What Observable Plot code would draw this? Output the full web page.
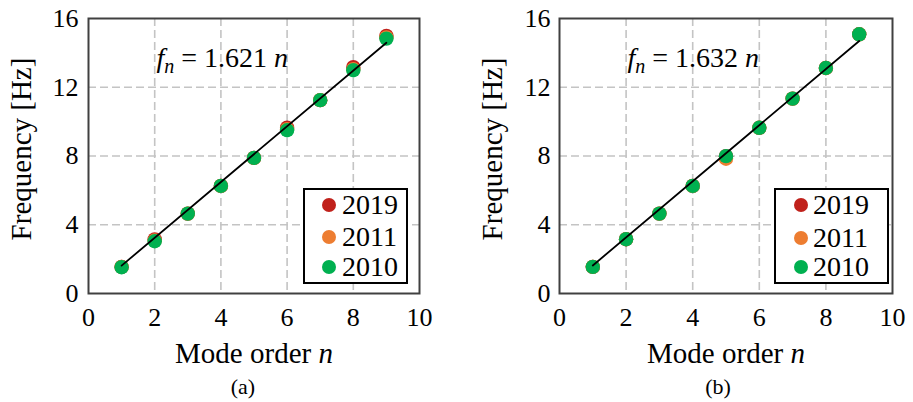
<!DOCTYPE html>
<html>
<head>
<meta charset="utf-8">
<script src="https://cdn.jsdelivr.net/npm/d3@7"></script>
<script src="https://cdn.jsdelivr.net/npm/@observablehq/plot@0.6"></script>
<style>
  html, body { margin: 0; padding: 0; background: #fff; }
  #wrap { display: flex; width: 913px; height: 402px; font-family: "Liberation Serif", "Times New Roman", Times, "DejaVu Serif", serif; }
  .panel { position: relative; height: 402px; }
  .legend { position: absolute; box-sizing: border-box; border: 2px solid #000; background: #fff; }
  .legend .row { position: absolute; height: 30px; line-height: 30px; font-size: 28px; color: #000; white-space: nowrap; }
  .legend .sw { position: absolute; width: 14px; height: 14px; border-radius: 50%; }
  .caption { position: absolute; width: 100px; text-align: center; font-size: 22px; line-height: 30px; color: #000; }
</style>
</head>
<body>
<div id="wrap"></div>
<script>
// ---- data ----
const nModes = [1, 2, 3, 4, 5, 6, 7, 8, 9];
const years = ["2019", "2011", "2010"];
const colors = ["#c0211b", "#ed7d31", "#00b050"];
const xTicks = [0, 2, 4, 6, 8, 10];
const yTicks = [0, 4, 8, 12, 16];
const xGrid = [2, 4, 6, 8];
const yGrid = [4, 8, 12];
const xLabel = "Mode order n";
const yLabel = "Frequency [Hz]";

// panel (a)
const a2019 = [1.55, 3.15, 4.65, 6.26, 7.89, 9.65, 11.25, 13.17, 14.99];
const a2011 = [1.55, 3.08, 4.65, 6.26, 7.89, 9.56, 11.25, 13.05, 14.90];
const a2010 = [1.53, 3.04, 4.65, 6.26, 7.89, 9.50, 11.25, 12.99, 14.83];
const slopeA = 1.621;
// panel (b)
const b2019 = [1.55, 3.16, 4.65, 6.26, 7.99, 9.64, 11.34, 13.12, 15.08];
const b2011 = [1.55, 3.16, 4.65, 6.26, 7.84, 9.64, 11.34, 13.12, 15.08];
const b2010 = [1.55, 3.16, 4.65, 6.26, 7.99, 9.64, 11.34, 13.12, 15.08];
const slopeB = 1.632;
const fitN = [1, 9];

const FONT = '"Liberation Serif", "Times New Roman", Times, "DejaVu Serif", serif';

function makePanel(cfg) {
  const rows = [];
  years.forEach((yr, i) => cfg.series[i].forEach((f, j) => rows.push({n: nModes[j], f, year: yr})));
  const fit = fitN.map(n => ({n, f: cfg.slope * n}));
  const eq = "f_n = " + cfg.slope.toFixed(3) + " n";
  const svg = Plot.plot({
    width: cfg.width, height: 372,
    marginLeft: cfg.marginLeft, marginRight: cfg.marginRight, marginTop: 18, marginBottom: 79,
    x: {domain: [0, 10]},
    y: {domain: [0, 16]},
    color: {domain: years, range: colors},
    style: {fontFamily: FONT, fontSize: "26px", color: "#000", background: "#fff"},
    marks: [
      Plot.gridX(xGrid, {stroke: "#c4c4c4", strokeOpacity: 1, strokeWidth: 1.6, strokeDasharray: "8,4"}),
      Plot.gridY(yGrid, {stroke: "#c4c4c4", strokeOpacity: 1, strokeWidth: 1.6, strokeDasharray: "8,4"}),
      Plot.dot(rows, {x: "n", y: "f", fill: "year", r: 7.2}),
      Plot.line(fit, {x: "n", y: "f", stroke: "#000", strokeWidth: 1.8}),
      Plot.frame({stroke: "#404040", strokeWidth: 2}),
      Plot.axisX(xTicks, {tickSize: 0, tickPadding: 14, label: null, fontSize: 26, fontFamily: FONT}),
      Plot.axisY(yTicks, {tickSize: 0, tickPadding: cfg.yPad, label: null, fontSize: 26, fontFamily: FONT}),
      Plot.text([xLabel], {text: d => d, frameAnchor: "bottom", dy: 60, fontSize: 29, fontFamily: FONT, textAnchor: "middle", lineAnchor: "middle"}),
      Plot.text([yLabel], {text: d => d, frameAnchor: "left", rotate: -90, dx: -67, dy: -7, fontSize: 29, fontFamily: FONT, textAnchor: "middle", lineAnchor: "middle"}),
      Plot.text([eq], {text: d => d, frameAnchor: "top-left", dx: 68, dy: 40, textAnchor: "start", lineAnchor: "middle", fontSize: 28, fontFamily: FONT})
    ]
  });
  // rich text: italic n in the x label, subscript in the equation
  d3.select(svg).selectAll("text").each(function () {
    const t = this.textContent;
    const s = d3.select(this);
    if (t === xLabel) {
      s.text(null);
      s.append("tspan").text("Mode order ");
      s.append("tspan").attr("font-style", "italic").text("n");
    } else if (t === eq) {
      s.text(null);
      s.append("tspan").attr("font-style", "italic").text("f");
      s.append("tspan").attr("font-style", "italic").attr("font-size", 20).attr("dy", 6).text("n");
      s.append("tspan").attr("dy", -6).text(" = " + cfg.slope.toFixed(3) + " ");
      s.append("tspan").attr("font-style", "italic").text("n");
    }
  });

  const div = document.createElement("div");
  div.className = "panel";
  div.style.width = cfg.width + "px";
  div.appendChild(svg);

  // legend
  const L = cfg.legend;
  const leg = document.createElement("div");
  leg.className = "legend";
  Object.assign(leg.style, {left: L.left + "px", top: L.top + "px", width: L.width + "px", height: L.height + "px"});
  years.forEach((yr, i) => {
    const row = document.createElement("div");
    row.className = "row";
    row.style.top = (L.rowY[i] - L.top - 2 - 15) + "px";
    row.style.left = (L.textX - L.left - 2) + "px";
    row.textContent = yr;
    leg.appendChild(row);
    const sw = document.createElement("div");
    sw.className = "sw";
    sw.style.background = colors[i];
    sw.style.left = (L.markX - L.left - 2 - 7) + "px";
    sw.style.top = (L.rowY[i] - L.top - 2 - 7) + "px";
    leg.appendChild(sw);
  });
  div.appendChild(leg);

  const cap = document.createElement("div");
  cap.className = "caption";
  cap.textContent = cfg.caption;
  cap.style.left = (cfg.captionX - 50) + "px";
  cap.style.top = "372px";
  div.appendChild(cap);
  return div;
}

const wrap = document.getElementById("wrap");
wrap.appendChild(makePanel({
  width: 456, marginLeft: 88, marginRight: 37, yPad: 10,
  series: [a2019, a2011, a2010], slope: slopeA, caption: "(a)", captionX: 243,
  legend: {left: 303, top: 188, width: 105, height: 96, rowY: [205, 237, 267], markX: 329, textX: 342}
}));
wrap.appendChild(makePanel({
  width: 457, marginLeft: 103, marginRight: 21, yPad: 9,
  series: [b2019, b2011, b2010], slope: slopeB, caption: "(b)", captionX: 262,
  legend: {left: 318, top: 188, width: 115, height: 96, rowY: [205, 238, 267], markX: 345, textX: 357}
}));
</script>
</body>
</html>
